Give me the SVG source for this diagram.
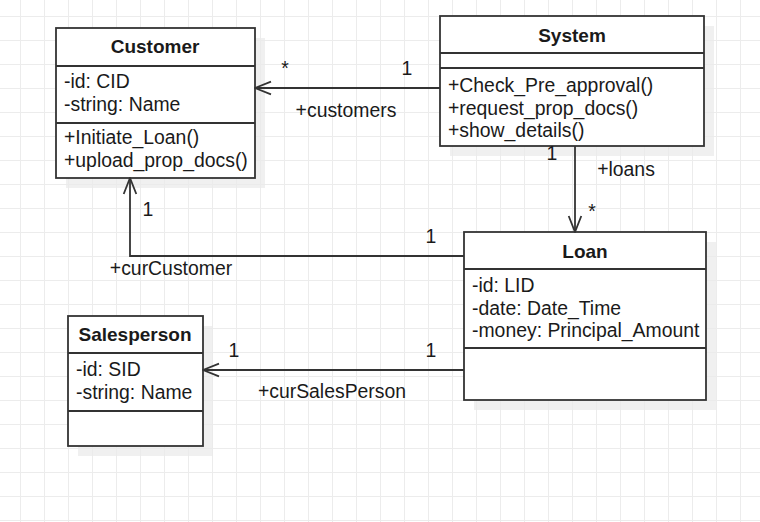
<svg xmlns="http://www.w3.org/2000/svg" width="760" height="522" viewBox="0 0 760 522">
<style>
text{font-family:"Liberation Sans",Arial,sans-serif;font-size:19.4px;fill:#1a1a1a}
.t{font-weight:bold;text-anchor:middle;font-size:19px}
.box{fill:#fff;stroke:#333;stroke-width:1.8}
.div{stroke:#333;stroke-width:1.8}
.sh{fill:#ebebeb;opacity:0.75}
.edge{fill:none;stroke:#333;stroke-width:1.8}
.lbl{text-anchor:middle}
</style>
<defs>
<pattern id="grid" width="24" height="24" patternUnits="userSpaceOnUse" x="20" y="16">
<path d="M0 0.5H24M0.5 0V24" fill="none" stroke="#ececec" stroke-width="1"/>
</pattern>
<marker id="open" viewBox="0 0 20 16" refX="19" refY="8" markerWidth="20" markerHeight="16" markerUnits="userSpaceOnUse" orient="auto">
<path d="M3 1.7L19 8L3 14.3" fill="none" stroke="#333" stroke-width="1.8"/>
</marker>
</defs>
<rect width="760" height="522" fill="#fff"/>
<rect width="760" height="522" fill="url(#grid)"/>

<g id="customer">
<rect class="sh" x="66" y="38" width="199" height="150"/>
<rect class="box" x="56" y="28" width="199" height="150"/>
<line class="div" x1="56" y1="66" x2="255" y2="66"/>
<line class="div" x1="56" y1="123" x2="255" y2="123"/>
<text class="t" x="155" y="53">Customer</text>
<text x="64" y="88">-id: CID</text>
<text x="64" y="111">-string: Name</text>
<text x="64" y="144">+Initiate_Loan()</text>
<text x="64" y="167">+upload_prop_docs()</text>
</g>

<g id="system">
<rect class="sh" x="450" y="26" width="264" height="130"/>
<rect class="box" x="440" y="16" width="264" height="130"/>
<line class="div" x1="440" y1="53" x2="704" y2="53"/>
<line class="div" x1="440" y1="68" x2="704" y2="68"/>
<text class="t" x="572" y="42">System</text>
<text x="448" y="92">+Check_Pre_approval()</text>
<text x="448" y="115">+request_prop_docs()</text>
<text x="448" y="137">+show_details()</text>
</g>

<g id="loan">
<rect class="sh" x="474" y="242" width="242" height="168"/>
<rect class="box" x="464" y="232" width="242" height="168"/>
<line class="div" x1="464" y1="269" x2="706" y2="269"/>
<line class="div" x1="464" y1="348" x2="706" y2="348"/>
<text class="t" x="585" y="258">Loan</text>
<text x="472" y="292">-id: LID</text>
<text x="472" y="315">-date: Date_Time</text>
<text x="472" y="337">-money: Principal_Amount</text>
</g>

<g id="salesperson">
<rect class="sh" x="78" y="326" width="135" height="130"/>
<rect class="box" x="68" y="316" width="135" height="130"/>
<line class="div" x1="68" y1="353" x2="203" y2="353"/>
<line class="div" x1="68" y1="411" x2="203" y2="411"/>
<text class="t" x="135" y="341">Salesperson</text>
<text x="76" y="376">-id: SID</text>
<text x="76" y="399">-string: Name</text>
</g>

<g id="connectors">
<path class="edge" d="M440 88H255" marker-end="url(#open)"/>
<path class="edge" d="M575 146V232" marker-end="url(#open)"/>
<path class="edge" d="M464 256H130V178" marker-end="url(#open)"/>
<path class="edge" d="M464 370H203" marker-end="url(#open)"/>
<text class="lbl" x="285" y="75">*</text>
<text class="lbl" x="407" y="75">1</text>
<text class="lbl" x="346" y="117">+customers</text>
<text class="lbl" x="552" y="160">1</text>
<text class="lbl" x="626" y="176">+loans</text>
<text class="lbl" x="592" y="218">*</text>
<text class="lbl" x="148" y="216">1</text>
<text class="lbl" x="431" y="243">1</text>
<text class="lbl" x="171" y="275">+curCustomer</text>
<text class="lbl" x="234" y="357">1</text>
<text class="lbl" x="431" y="357">1</text>
<text class="lbl" x="332" y="398">+curSalesPerson</text>
</g>
</svg>
